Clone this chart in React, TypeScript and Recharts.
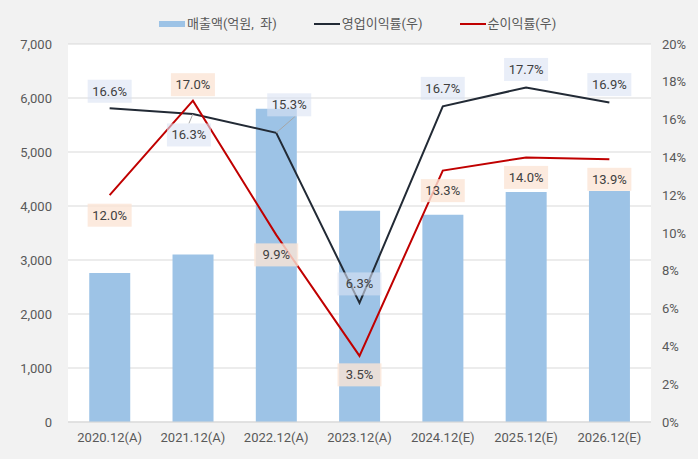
import { ComposedChart, Bar, Line, XAxis, YAxis, CartesianGrid, LabelList } from 'recharts';

// ─── Data ─────────────────────────────────────────────────────────────────────

const years = ['2020.12(A)', '2021.12(A)', '2022.12(A)', '2023.12(A)', '2024.12(E)', '2025.12(E)', '2026.12(E)'];
const revenue = [2760, 3100, 5800, 3910, 3840, 4260, 4280];
const opMargin = [16.6, 16.3, 15.3, 6.3, 16.7, 17.7, 16.9];
const netMargin = [12.0, 17.0, 9.9, 3.5, 13.3, 14.0, 13.9];
const leftTicks = [0, 1000, 2000, 3000, 4000, 5000, 6000, 7000];
const rightTicks = [0, 2, 4, 6, 8, 10, 12, 14, 16, 18, 20];

// ─── Style ────────────────────────────────────────────────────────────────────

const COLOR_BAR = '#9dc3e6';
const COLOR_OP = '#222a35';
const COLOR_NET = '#c00000';
const COLOR_GRID = '#d9d9d9';
const COLOR_TEXT = '#595959';
const FONT = 'Roboto, "Noto Sans CJK KR", sans-serif';

// label centre offsets from the point (layout only)
const OP_OFFSETS: [number, number][] = [[0, -17], [-4, 21], [13, -28], [0, -19], [0, -18], [0, -18], [0, -18]];
const NET_OFFSETS: [number, number][] = [[0, 20], [0, -16], [0, 20], [0, 19], [0, 20], [0, 20], [0, 20]];
const OP_LEADER = [false, true, true, false, false, false, false];

const chartData = years.map((name, i) => ({
  name,
  revenue: revenue[i],
  op: opMargin[i],
  net: netMargin[i],
}));

const BOX_W = 44;
const BOX_H = 23;

function makeLabel(offsets: [number, number][], fill: string, leaders?: boolean[]) {
  return (props: any) => {
    const { x, y, value, index } = props;
    const [dx, dy] = offsets[index];
    const cx = x + dx;
    const cy = y + dy;
    const edgeY = dy < 0 ? cy + BOX_H / 2 : cy - BOX_H / 2;
    const edgeX = dx > 0 ? cx + 6 : cx;
    return (
      <g>
        {leaders && leaders[index] && (
          <line x1={x} y1={y} x2={edgeX} y2={edgeY} stroke="#a6a6a6" strokeWidth={1} />
        )}
        <rect x={cx - BOX_W / 2} y={cy - BOX_H / 2} width={BOX_W} height={BOX_H} fill={fill} />
        <text
          x={cx}
          y={cy}
          textAnchor="middle"
          dominantBaseline="central"
          fontSize={13}
          fontFamily={FONT}
          fill="#404040"
        >
          {value.toFixed(1)}%
        </text>
      </g>
    );
  };
}

function LegendBar() {
  const item = (swatch: JSX.Element, label: string) => (
    <div style={{ display: 'flex', alignItems: 'center', gap: 2 }}>
      {swatch}
      <span style={{ whiteSpace: 'pre' }}>{label}</span>
    </div>
  );
  return (
    <div
      style={{
        position: 'absolute',
        top: 15,
        left: 159,
        display: 'flex',
        gap: 37,
        fontSize: 13,
        fontFamily: FONT,
        color: COLOR_TEXT,
        lineHeight: '18px',
      }}
    >
      {item(<span style={{ width: 26, height: 6, background: COLOR_BAR, display: 'inline-block' }} />, '매출액(억원,  좌)')}
      {item(<span style={{ width: 26, height: 2, background: COLOR_OP, display: 'inline-block' }} />, '영업이익률(우)')}
      {item(<span style={{ width: 26, height: 2, background: COLOR_NET, display: 'inline-block' }} />, '순이익률(우)')}
    </div>
  );
}

export default function App() {
  return (
    <div style={{ position: 'fixed', left: 0, top: 0, width: 698, height: 459, background: '#f2f2f2' }}>
      <LegendBar />
      <ComposedChart
        width={698}
        height={459}
        data={chartData}
        margin={{ top: 44, right: 0, bottom: 7, left: 8 }}
        barCategoryGap="25.5%"
      >
        <CartesianGrid yAxisId="left" vertical={false} stroke={COLOR_GRID} fill="#ffffff" />
        <XAxis
          dataKey="name"
          height={30}
          tickLine={false}
          axisLine={{ stroke: COLOR_GRID }}
          tickSize={0}
          tickMargin={11}
          tick={{ fill: COLOR_TEXT, fontSize: 13, fontFamily: FONT }}
          interval={0}
        />
        <YAxis
          yAxisId="left"
          width={60}
          domain={[0, 7000]}
          ticks={leftTicks}
          axisLine={false}
          tickLine={false}
          tickSize={0}
          tickMargin={16}
          tick={{ fill: COLOR_TEXT, fontSize: 13, fontFamily: FONT }}
          tickFormatter={(v: number) => v.toLocaleString('en-US')}
        />
        <YAxis
          yAxisId="right"
          orientation="right"
          width={47}
          domain={[0, 20]}
          ticks={rightTicks}
          axisLine={false}
          tickLine={false}
          tickSize={0}
          tickMargin={11}
          tick={{ fill: COLOR_TEXT, fontSize: 13, fontFamily: FONT, textAnchor: 'start' }}
          tickFormatter={(v: number) => `${v}%`}
        />
        <Bar yAxisId="left" dataKey="revenue" fill={COLOR_BAR} isAnimationActive={false} />
        <Line yAxisId="right" dataKey="op" stroke={COLOR_OP} strokeWidth={2} dot={false} isAnimationActive={false} />
        <Line yAxisId="right" dataKey="net" stroke={COLOR_NET} strokeWidth={2} dot={false} isAnimationActive={false} />
        {/* label layers drawn on top of both lines */}
        <Line yAxisId="right" dataKey="op" stroke="none" dot={false} activeDot={false} legendType="none" isAnimationActive={false}>
          <LabelList dataKey="op" content={makeLabel(OP_OFFSETS, 'rgba(218,227,243,0.6)', OP_LEADER)} />
        </Line>
        <Line yAxisId="right" dataKey="net" stroke="none" dot={false} activeDot={false} legendType="none" isAnimationActive={false}>
          <LabelList dataKey="net" content={makeLabel(NET_OFFSETS, 'rgba(251,229,214,0.8)')} />
        </Line>
      </ComposedChart>
    </div>
  );
}
